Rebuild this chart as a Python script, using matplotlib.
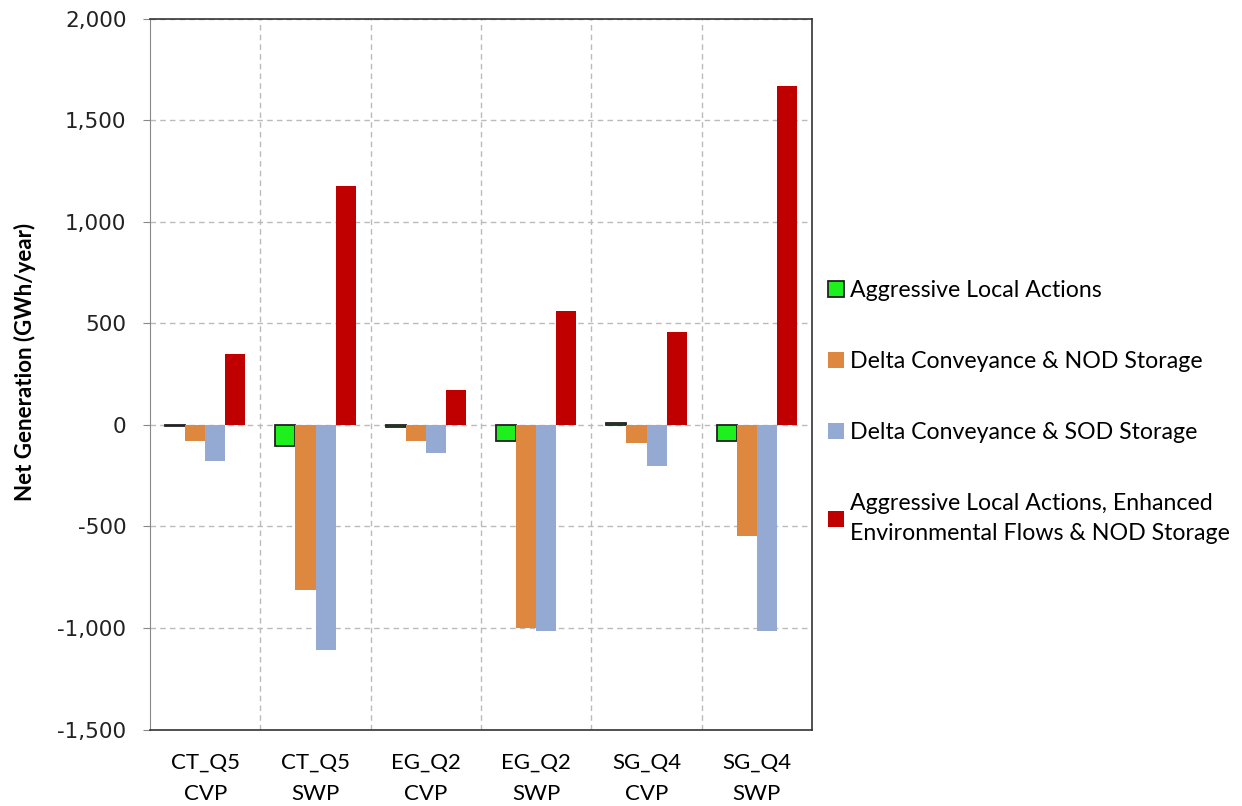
import numpy as np
import matplotlib
matplotlib.use("Agg")
import matplotlib.pyplot as plt

categories = ["CT_Q5\nCVP", "CT_Q5\nSWP", "EG_Q2\nCVP", "EG_Q2\nSWP", "SG_Q4\nCVP", "SG_Q4\nSWP"]
series_names = [
    "Aggressive Local Actions",
    "Delta Conveyance & NOD Storage",
    "Delta Conveyance & SOD Storage",
    "Aggressive Local Actions, Enhanced\nEnvironmental Flows & NOD Storage",
]
local_actions = [-4, -104, -13, -78, 10, -78]
dc_nod = [-80, -811, -80, -998, -91, -547]
dc_sod = [-180, -1111, -137, -1016, -204, -1016]
enhanced_env = [347, 1178, 173, 562, 457, 1668]

colors = ["#1EF01E", "#DD873F", "#95AAD3", "#C00000"]
edges = ["#222222", "none", "none", "none"]

fig = plt.figure(figsize=(12.42, 8.06), dpi=100)
ax = fig.add_axes([0.1208, 0.0949, 0.533, 0.8821])

x = np.arange(len(categories))
w = 0.182
for i, vals in enumerate([local_actions, dc_nod, dc_sod, enhanced_env]):
    ax.bar(x + (i - 1.5) * w, vals, w, color=colors[i], edgecolor=edges[i],
           linewidth=1.3 if i == 0 else 0, label=series_names[i], zorder=3)

ax.set_xlim(-0.5, len(categories) - 0.5)
ax.set_ylim(-1500, 2000)
ax.set_yticks(range(-1500, 2001, 500))
ax.set_yticklabels([f"{v:,}" for v in range(-1500, 2001, 500)],
                   fontsize=15.5, color="#222222")
ax.set_xticks(x)
ax.set_xticklabels(categories, fontsize=16, family="Lato", linespacing=1.65)
ax.tick_params(axis="x", length=0, pad=17)
ax.tick_params(axis="y", length=5, color="#888888", pad=12)

ax.grid(axis="y", linestyle=(0, (4, 3)), color="#bbbbbb", linewidth=1, zorder=0)
for b in np.arange(0.5, len(categories) - 0.5, 1):
    ax.axvline(b, linestyle=(0, (4, 3)), color="#bbbbbb", linewidth=1, zorder=0)

for s in ["top", "right", "bottom"]:
    ax.spines[s].set_color("#333333")
    ax.spines[s].set_linewidth(1.2)
ax.spines["left"].set_color("#888888")

ax.set_ylabel("Net Generation (GWh/year)", fontsize=16, family="Lato",
              fontweight="bold")
ax.yaxis.set_label_coords(-0.172, 0.517)

ax.legend(loc="center left", bbox_to_anchor=(1.024, 0.4466), frameon=False,
          borderpad=0, borderaxespad=0,
          prop={"family": "Lato", "size": 16.7}, handlelength=0.7,
          handleheight=0.7, handletextpad=0.25, labelspacing=2.15)
for t in ax.get_legend().get_texts():
    t.set_linespacing(1.5)

fig.savefig("out.png", dpi=100)
